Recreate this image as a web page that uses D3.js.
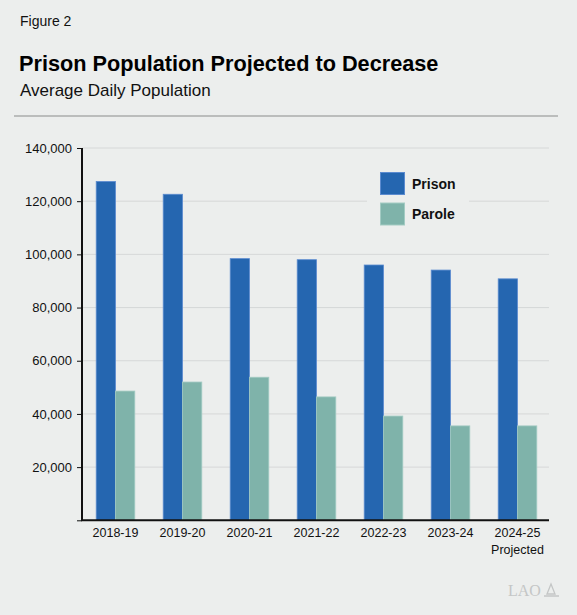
<!DOCTYPE html>
<html>
<head>
<meta charset="utf-8">
<script src="https://cdn.jsdelivr.net/npm/d3@7"></script>
<style>
  body { margin: 0; background: #eceeed; }
  svg { display: block; font-family: "Liberation Sans", Arial, Helvetica, sans-serif; }
</style>
</head>
<body>
<svg id="chart" width="577" height="615"></svg>
<script>
// data
const years = ["2018-19", "2019-20", "2020-21", "2021-22", "2022-23", "2023-24", "2024-25"];
const yearNotes = ["", "", "", "", "", "", "Projected"];
const prison = [127400, 122600, 98400, 98000, 96000, 94100, 90800];
const parole = [48600, 52000, 53800, 46400, 39200, 35500, 35500];
const seriesNames = ["Prison", "Parole"];
const yTicks = [20000, 40000, 60000, 80000, 100000, 120000, 140000];

const colors = { Prison: "#2566b0", Parole: "#7fb3aa" };
const strokes = { Prison: "#5b8bd0", Parole: "#a3cbc3" };

const svg = d3.select("#chart");
const W = 577, H = 615;

svg.append("rect").attr("width", W).attr("height", H).attr("fill", "#eceeed");

// header
svg.append("text").attr("x", 20).attr("y", 26)
  .attr("font-size", 14).attr("fill", "#111").text("Figure 2");
svg.append("text").attr("x", 19).attr("y", 71)
  .attr("font-size", 21.7).attr("font-weight", "bold").attr("fill", "#000")
  .text("Prison Population Projected to Decrease");
svg.append("text").attr("x", 20).attr("y", 96)
  .attr("font-size", 17).attr("fill", "#111").text("Average Daily Population");
svg.append("line").attr("x1", 14).attr("x2", 558).attr("y1", 116).attr("y2", 116)
  .attr("stroke", "#8a8c8c").attr("stroke-width", 1.2);

const plotL = 82, plotR = 551, plotT = 148, plotB = 520.3;

const x0 = d3.scaleBand().domain(years).range([plotL, plotR])
  .paddingInner(0.424).paddingOuter(0.212);
const x1 = d3.scaleBand().domain(seriesNames).range([0, x0.bandwidth()]);
const y = d3.scaleLinear().domain([0, 140000]).range([plotB, plotT]);

// gridlines
svg.append("g").selectAll("line").data(yTicks).join("line")
  .attr("x1", plotL).attr("x2", 549)
  .attr("y1", d => y(d)).attr("y2", d => y(d))
  .attr("stroke", "#d6d8d8").attr("stroke-width", 1);

// y axis
const yAxis = svg.append("g").attr("transform", `translate(${plotL},0)`)
  .call(d3.axisLeft(y).tickValues([0].concat(yTicks)).tickSize(5).tickPadding(5)
    .tickFormat(d => d === 0 ? "" : d3.format(",")(d)));
yAxis.select(".domain").attr("stroke", "#111").attr("stroke-width", 2)
  .attr("d", `M0,${plotT}V${plotB}`);
yAxis.selectAll(".tick line").attr("stroke", "#111");
yAxis.selectAll(".tick text").attr("font-size", 13).attr("fill", "#111")
  .attr("font-family", "Liberation Sans, Arial, sans-serif");

// legend (with background to break the gridline)
const legend = svg.append("g");
legend.append("rect").attr("x", 367).attr("y", 166).attr("width", 102).attr("height", 66)
  .attr("fill", "#eceeed");
seriesNames.forEach((s, i) => {
  const ly = 172.5 + i * 30.5;
  legend.append("rect").attr("x", 380.5).attr("y", ly).attr("width", 24).attr("height", 22)
    .attr("fill", colors[s]).attr("stroke", strokes[s]).attr("stroke-width", 1);
  legend.append("text").attr("x", 412).attr("y", ly + 16)
    .attr("font-size", 14).attr("font-weight", "bold").attr("fill", "#111").text(s);
});

// bars
const rows = years.map((yr, i) => ({ year: yr, Prison: prison[i], Parole: parole[i] }));
const groups = svg.append("g").selectAll("g").data(rows).join("g")
  .attr("transform", d => `translate(${x0(d.year)},0)`);
groups.selectAll("rect")
  .data(d => seriesNames.map(s => ({ s, v: d[s] })))
  .join("rect")
  .attr("x", d => x1(d.s))
  .attr("width", x1.bandwidth())
  .attr("y", d => y(d.v))
  .attr("height", d => y(0) - y(d.v))
  .attr("fill", d => colors[d.s])
  .attr("stroke", d => strokes[d.s]).attr("stroke-width", 0.8);

// x axis
const xAxis = svg.append("g").attr("transform", `translate(0,${plotB})`)
  .call(d3.axisBottom(x0).tickSize(0).tickPadding(8));
xAxis.select(".domain").attr("stroke", "#111").attr("stroke-width", 2)
  .attr("d", `M${plotL - 1},0H549`);
xAxis.selectAll(".tick text").attr("font-size", 12.5).attr("fill", "#111")
  .attr("font-family", "Liberation Sans, Arial, sans-serif");
xAxis.selectAll(".tick").each(function(d, i) {
  if (yearNotes[i]) {
    d3.select(this).append("text").attr("y", 34).attr("fill", "#111")
      .attr("font-size", 12.5).attr("text-anchor", "middle")
      .attr("font-family", "Liberation Sans, Arial, sans-serif")
      .text(yearNotes[i]);
  }
});

// LAO mark
svg.append("text").attr("x", 508).attr("y", 596)
  .attr("font-family", "Liberation Serif, serif").attr("font-size", 16)
  .attr("fill", "#c4c6c6").text("LAO");
svg.append("path")
  .attr("d", "M547,594 L551,584 L555,594 Z M544,596 H559")
  .attr("fill", "none").attr("stroke", "#c4c6c6").attr("stroke-width", 1.3);
</script>
</body>
</html>
